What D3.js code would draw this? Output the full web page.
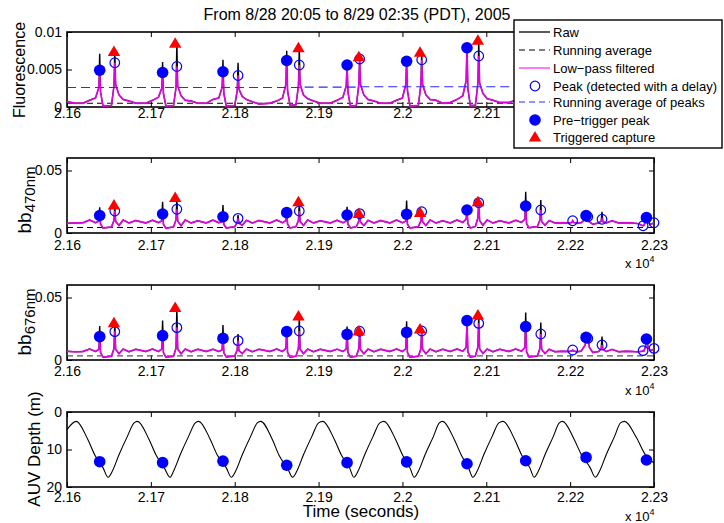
<!DOCTYPE html>
<html>
<head>
<meta charset="utf-8">
<script src="https://cdn.jsdelivr.net/npm/d3@7"></script>
<style>
  body { margin: 0; background: #fff; }
  text { font-family: "Liberation Sans", Arial, Helvetica, sans-serif; fill: #000; }
</style>
</head>
<body>
<svg id="chart" width="724" height="523"></svg>
<script>
// ---- data (time in seconds) ----
var sampleTime = [
  21600, 21610,
  21619, 21627, 21634, 21638, 21639, 21640, 21643, 21653, 21656, 21657, 21658, 21662, 21667, 21674, 21682,
  21694, 21702, 21709, 21713, 21714, 21715, 21718, 21727, 21730, 21731, 21732, 21736, 21741, 21748, 21756,
  21766, 21774, 21781, 21785, 21786, 21787, 21790, 21800, 21803, 21804, 21805, 21809, 21814, 21821, 21829,
  21842, 21850, 21857, 21861, 21862, 21863, 21866, 21873, 21876, 21877, 21878, 21882, 21887, 21894, 21902,
  21914, 21922, 21929, 21933, 21934, 21935, 21938, 21945, 21948, 21949, 21950, 21954, 21959, 21966, 21974,
  21985, 21993, 22000, 22004, 22005, 22006, 22009, 22019, 22022, 22023, 22024, 22028, 22033, 22040, 22048,
  22057, 22065, 22072, 22076, 22077, 22078, 22081, 22087, 22090, 22091, 22092, 22096, 22101, 22108, 22116,
  22127, 22135, 22142, 22146, 22147, 22148, 22151, 22161, 22164, 22165, 22166, 22170, 22175, 22182, 22190,
  22199, 22202, 22203, 22204, 22208,
  22213, 22218, 22219, 22220, 22221, 22223, 22227, 22234, 22237, 22238, 22239, 22243, 22250, 22258, 22266, 22274,
  22281, 22286, 22287, 22288, 22290, 22291, 22292, 22293, 22296, 22299, 22300
];

// low-pass filtered values at sampleTime
var fluorLP = [
  0.0007, 0.0005,
  0.0005, 0.0009, 0.0012, 0.0026, 0.0049, 0.0020, 0.0001, 0.0002, 0.0028, 0.0059, 0.0030, 0.0016, 0.0010, 0.0008, 0.0005,
  0.0005, 0.0009, 0.0013, 0.0025, 0.0046, 0.0018, 0.0001, 0.0002, 0.0026, 0.0054, 0.0028, 0.0015, 0.0009, 0.0008, 0.0005,
  0.0005, 0.0010, 0.0012, 0.0026, 0.0047, 0.0018, 0.0001, 0.0002, 0.0022, 0.0042, 0.0024, 0.0014, 0.0010, 0.0007, 0.0004,
  0.0005, 0.0008, 0.0012, 0.0030, 0.0062, 0.0022, 0.0002, 0.0003, 0.0028, 0.0056, 0.0030, 0.0016, 0.0011, 0.0008, 0.0005,
  0.0005, 0.0009, 0.0013, 0.0028, 0.0056, 0.0020, 0.0001, 0.0002, 0.0030, 0.0064, 0.0030, 0.0016, 0.0010, 0.0008, 0.0005,
  0.0005, 0.0009, 0.0012, 0.0030, 0.0061, 0.0022, 0.0001, 0.0002, 0.0030, 0.0063, 0.0030, 0.0016, 0.0010, 0.0009, 0.0005,
  0.0006, 0.0010, 0.0015, 0.0035, 0.0079, 0.0025, 0.0002, 0.0002, 0.0032, 0.0068, 0.0032, 0.0018, 0.0011, 0.0009, 0.0006,
  0.0006, 0.0009, 0.0013, 0.0028, 0.0058, 0.0020, 0.0001, 0.0002, 0.0025, 0.0050, 0.0026, 0.0015, 0.0010, 0.0008, 0.0006,
  0.0006, 0.0010, 0.0016, 0.0010, 0.0006,
  0.0008, 0.0020, 0.0042, 0.0030, 0.0038, 0.0015, 0.0006, 0.0004, 0.0015, 0.0030, 0.0016, 0.0008, 0.0007, 0.0006, 0.0005, 0.0005,
  0.0006, 0.0004, 0.0010, 0.0006, 0.0018, 0.0036, 0.0030, 0.0015, 0.0008, 0.0010, 0.0018
];
var bb470LP = [
  0.0078, 0.0080,
  0.0082, 0.0104, 0.0082, 0.0095, 0.0140, 0.0072, 0.0040, 0.0048, 0.0100, 0.0176, 0.0092, 0.0060, 0.0104, 0.0080, 0.0100,
  0.0080, 0.0102, 0.0083, 0.0098, 0.0152, 0.0070, 0.0038, 0.0048, 0.0105, 0.0190, 0.0095, 0.0058, 0.0104, 0.0080, 0.0098,
  0.0080, 0.0103, 0.0082, 0.0092, 0.0130, 0.0068, 0.0040, 0.0050, 0.0085, 0.0117, 0.0080, 0.0062, 0.0102, 0.0080, 0.0100,
  0.0080, 0.0104, 0.0082, 0.0100, 0.0163, 0.0072, 0.0040, 0.0050, 0.0100, 0.0176, 0.0092, 0.0060, 0.0104, 0.0080, 0.0098,
  0.0080, 0.0102, 0.0082, 0.0095, 0.0144, 0.0070, 0.0040, 0.0050, 0.0095, 0.0155, 0.0088, 0.0060, 0.0102, 0.0080, 0.0100,
  0.0080, 0.0104, 0.0082, 0.0096, 0.0150, 0.0070, 0.0040, 0.0050, 0.0098, 0.0170, 0.0090, 0.0060, 0.0104, 0.0080, 0.0098,
  0.0080, 0.0104, 0.0085, 0.0110, 0.0184, 0.0075, 0.0040, 0.0052, 0.0120, 0.0243, 0.0100, 0.0062, 0.0104, 0.0080, 0.0098,
  0.0080, 0.0102, 0.0085, 0.0110, 0.0216, 0.0075, 0.0042, 0.0052, 0.0105, 0.0184, 0.0090, 0.0062, 0.0100, 0.0080, 0.0082,
  0.0080, 0.0085, 0.0098, 0.0085, 0.0078,
  0.0082, 0.0110, 0.0139, 0.0125, 0.0130, 0.0090, 0.0070, 0.0080, 0.0095, 0.0110, 0.0090, 0.0080, 0.0098, 0.0080, 0.0082, 0.0080,
  0.0075, 0.0060, 0.0058, 0.0062, 0.0095, 0.0123, 0.0110, 0.0085, 0.0070, 0.0078, 0.0082
];
var bb676LP = [
  0.0070, 0.0065,
  0.0068, 0.0088, 0.0068, 0.0085, 0.0187, 0.0060, 0.0022, 0.0030, 0.0090, 0.0227, 0.0085, 0.0050, 0.0088, 0.0066, 0.0086,
  0.0068, 0.0088, 0.0068, 0.0088, 0.0195, 0.0060, 0.0022, 0.0030, 0.0095, 0.0259, 0.0088, 0.0050, 0.0088, 0.0066, 0.0086,
  0.0068, 0.0086, 0.0068, 0.0082, 0.0173, 0.0058, 0.0024, 0.0032, 0.0080, 0.0155, 0.0075, 0.0052, 0.0088, 0.0066, 0.0086,
  0.0068, 0.0088, 0.0068, 0.0092, 0.0227, 0.0062, 0.0022, 0.0030, 0.0092, 0.0232, 0.0086, 0.0050, 0.0088, 0.0066, 0.0086,
  0.0068, 0.0087, 0.0068, 0.0088, 0.0205, 0.0060, 0.0022, 0.0030, 0.0090, 0.0230, 0.0085, 0.0050, 0.0088, 0.0066, 0.0086,
  0.0068, 0.0088, 0.0068, 0.0090, 0.0221, 0.0060, 0.0022, 0.0030, 0.0090, 0.0232, 0.0085, 0.0050, 0.0088, 0.0066, 0.0086,
  0.0068, 0.0088, 0.0070, 0.0100, 0.0315, 0.0065, 0.0022, 0.0030, 0.0105, 0.0293, 0.0090, 0.0052, 0.0088, 0.0066, 0.0086,
  0.0068, 0.0088, 0.0070, 0.0100, 0.0267, 0.0065, 0.0024, 0.0032, 0.0095, 0.0208, 0.0085, 0.0052, 0.0086, 0.0066, 0.0070,
  0.0068, 0.0072, 0.0080, 0.0072, 0.0066,
  0.0070, 0.0120, 0.0181, 0.0160, 0.0173, 0.0100, 0.0060, 0.0068, 0.0090, 0.0120, 0.0085, 0.0068, 0.0085, 0.0066, 0.0070, 0.0068,
  0.0065, 0.0070, 0.0075, 0.0072, 0.0110, 0.0168, 0.0140, 0.0100, 0.0075, 0.0085, 0.0093
];

// raw spikes (where the raw trace rises above the filtered one)
var rawTime  = [21639, 21657, 21714, 21731, 21786, 21804, 21862, 21877, 21934, 21949, 22005, 22023, 22077, 22091, 22147, 22165, 22238, 22291];
var fluorRaw = [0.0071, 0.0074, 0.0060, 0.0085, 0.0063, 0.0059, 0.0075, 0.0079, 0.0058, 0.0067, 0.0062, 0.0073, 0.0083, 0.0089, 0.0070, 0.0060, 0.0035, 0.0040];
var bb470Raw = [0.0205, 0.0224, 0.0250, 0.0285, 0.0224, 0.0144, 0.0175, 0.0250, 0.0210, 0.0157, 0.0260, 0.0165, 0.0190, 0.0250, 0.0330, 0.0264, 0.0170, 0.0130];
var bb676Raw = [0.0272, 0.0299, 0.0315, 0.0421, 0.0280, 0.0208, 0.0240, 0.0352, 0.0267, 0.0232, 0.0310, 0.0248, 0.0320, 0.0360, 0.0379, 0.0300, 0.0187, 0.0175];

// running averages
var runAvgTime  = [21600, 22300];
var fluorRunAvg = [0.0005, 0.0005];
var bb470RunAvg = [0.0044, 0.0044];
var bb676RunAvg = [0.0033, 0.0033];

var peakAvgTime  = [21600, 21657, 21731, 21804, 21877, 21949, 22023, 22091, 22165, 22300];
var fluorPeakAvg = [0.0026, 0.0026, 0.0026, 0.0026, 0.00265, 0.0027, 0.0027, 0.0027, 0.0027, 0.0027];

// peaks detected with a delay (open circles)
var peakTime  = [21657, 21731, 21804, 21877, 21949, 22023, 22091, 22165, 22203, 22221, 22238, 22287, 22300];
var fluorPeak = [0.0059, 0.0054, 0.0042, 0.0056, 0.0064, 0.0063, 0.0068, 0.0050, 0.0016, 0.0038, 0.0030, 0.0010, 0.0018];
var bb470Peak = [0.0176, 0.0190, 0.0117, 0.0176, 0.0155, 0.0170, 0.0243, 0.0184, 0.0098, 0.0130, 0.0110, 0.0058, 0.0082];
var bb676Peak = [0.0227, 0.0259, 0.0155, 0.0232, 0.0230, 0.0232, 0.0293, 0.0208, 0.0080, 0.0173, 0.0120, 0.0075, 0.0093];

// pre-trigger peaks (filled dots)
var preTime  = [21639, 21714, 21786, 21862, 21934, 22005, 22077, 22147, 22219, 22291];
var fluorPre = [0.0049, 0.0046, 0.0047, 0.0062, 0.0056, 0.0061, 0.0079, 0.0058, 0.0042, 0.0036];
var bb470Pre = [0.0140, 0.0152, 0.0130, 0.0163, 0.0144, 0.0150, 0.0184, 0.0216, 0.0139, 0.0123];
var bb676Pre = [0.0187, 0.0195, 0.0173, 0.0227, 0.0205, 0.0221, 0.0315, 0.0267, 0.0181, 0.0168];
var depthPre = [13.25, 13.5, 13.1, 14.2, 13.5, 13.3, 13.8, 13.0, 12.1, 12.8];

// triggered captures (red triangles)
var trigTime  = [21656, 21729, 21876, 21948, 22021, 22090];
var fluorTrig = [0.0074, 0.0085, 0.0079, 0.0067, 0.0073, 0.0089];
var bb470Trig = [0.0224, 0.0285, 0.0250, 0.0157, 0.0165, 0.0250];
var bb676Trig = [0.0299, 0.0421, 0.0352, 0.0232, 0.0248, 0.0360];

// AUV depth profile (m)
var depthTime = [
  21600,
  21611, 21625, 21633, 21643, 21649, 21654, 21662, 21672, 21680,
  21684, 21698, 21706, 21716, 21723, 21727, 21735, 21745, 21753,
  21757, 21771, 21779, 21790, 21796, 21801, 21809, 21819, 21827,
  21831, 21845, 21853, 21863, 21869, 21874, 21882, 21892, 21900,
  21905, 21919, 21927, 21937, 21942, 21947, 21955, 21965, 21973,
  21978, 21992, 22000, 22009, 22014, 22019, 22027, 22037, 22044,
  22048, 22062, 22070, 22079, 22084, 22089, 22097, 22107, 22115,
  22120, 22134, 22142, 22152, 22157, 22162, 22170, 22180, 22187,
  22191, 22205, 22213, 22224, 22230, 22235, 22243, 22253, 22260,
  22265, 22279, 22290, 22300
];
var depth = [
  4.7,
  2.5, 7.4, 11.4, 14.9, 17.4, 15.8, 11.4, 6.5, 2.9,
  2.5, 7.4, 11.4, 14.9, 17.4, 15.8, 11.4, 6.5, 2.9,
  2.5, 7.4, 11.4, 14.9, 17.4, 15.8, 11.4, 6.5, 2.9,
  2.5, 7.4, 11.6, 15.0, 17.4, 15.8, 11.4, 6.5, 2.9,
  2.5, 7.4, 11.4, 14.9, 17.4, 15.8, 11.4, 6.5, 2.9,
  2.5, 7.4, 11.4, 14.9, 17.4, 15.8, 11.4, 6.5, 2.9,
  2.5, 7.4, 11.4, 15.0, 17.4, 15.8, 11.4, 6.5, 2.9,
  2.5, 7.4, 11.4, 14.9, 17.4, 15.8, 11.4, 6.5, 2.9,
  2.5, 7.4, 11.2, 14.9, 17.4, 15.8, 11.4, 6.5, 2.9,
  2.5, 6.8, 11.5, 13.6
];

var xTicks = [21600, 21700, 21800, 21900, 22000, 22100, 22200, 22300];

// ---- drawing ----
var svg  = d3.select("#chart");
var defs = svg.append("defs");
var x    = d3.scaleLinear().domain([21600, 22300]).range([67, 654]);
var FONT = '"Liberation Sans", Arial, Helvetica, sans-serif';

function pairs(t, v) { return t.map(function (d, i) { return [d, v[i]]; }); }

function rawSeries(lp, raw) {
  return sampleTime.map(function (t, i) {
    var j = rawTime.indexOf(t);
    return [t, j >= 0 ? raw[j] : lp[i]];
  });
}

function triPath(cx, cy) {
  return "M" + cx + "," + (cy - 6) + "L" + (cx + 6.2) + "," + (cy + 4.6) + "L" + (cx - 6.2) + "," + (cy + 4.6) + "Z";
}

function drawAxes(g, y, cfg) {
  var fmtX = function (d) {
    if (cfg.xLabelMax && d > cfg.xLabelMax) return "";   // covered by the legend
    return String(+(d / 10000).toFixed(4));
  };
  var ax = [
    g.append("g").attr("transform", "translate(0," + cfg.bottom + ")")
      .call(d3.axisBottom(x).tickValues(xTicks).tickFormat(fmtX).tickSizeInner(-5).tickSizeOuter(0).tickPadding(cfg.xPad)),
    g.append("g").attr("transform", "translate(0," + cfg.top + ")")
      .call(d3.axisTop(x).tickValues(xTicks).tickFormat("").tickSizeInner(-5).tickSizeOuter(0)),
    g.append("g").attr("transform", "translate(67,0)")
      .call(d3.axisLeft(y).tickValues(cfg.yTicks).tickFormat(function (d) { return String(d); }).tickSizeInner(-5).tickSizeOuter(0).tickPadding(5)),
    g.append("g").attr("transform", "translate(654,0)")
      .call(d3.axisRight(y).tickValues(cfg.yTicks).tickFormat("").tickSizeInner(-5).tickSizeOuter(0))
  ];
  ax.forEach(function (a) {
    a.select(".domain").remove();
    a.attr("font-family", FONT).attr("font-size", 14);
    a.selectAll("line").attr("stroke", "#000").attr("stroke-width", 1);
    a.selectAll("text").attr("fill", "#000");
  });

  g.append("rect")
    .attr("x", 67).attr("y", cfg.top)
    .attr("width", 587).attr("height", cfg.bottom - cfg.top)
    .attr("fill", "none").attr("stroke", "#000").attr("stroke-width", 1.6);

  if (cfg.expY) {
    var e = g.append("text").attr("x", 625).attr("y", cfg.expY).style("font-size", "13px");
    e.append("tspan").text("x 10");
    e.append("tspan").attr("dy", -6).style("font-size", "9px").text("4");
  }
}

function drawSensorPanel(cfg) {
  var y = d3.scaleLinear().domain(cfg.domain).range([cfg.bottom, cfg.top]);
  var g = svg.append("g");
  drawAxes(g, y, cfg);

  defs.append("clipPath").attr("id", "clip-" + cfg.id)
    .append("rect").attr("x", 67).attr("y", cfg.top).attr("width", 587).attr("height", cfg.bottom - cfg.top);

  var line = d3.line().x(function (d) { return x(d[0]); }).y(function (d) { return y(d[1]); });
  var plot = g.append("g").attr("clip-path", "url(#clip-" + cfg.id + ")");

  plot.append("path").datum(rawSeries(cfg.lp, cfg.raw))
    .attr("d", line).attr("fill", "none").attr("stroke", "#000").attr("stroke-width", 1.4);

  plot.append("path").datum(pairs(runAvgTime, cfg.runAvg))
    .attr("d", line).attr("fill", "none").attr("stroke", cfg.avgColor).attr("stroke-width", 1.1)
    .attr("stroke-dasharray", "6,4");

  plot.append("path").datum(pairs(sampleTime, cfg.lp))
    .attr("d", line).attr("fill", "none").attr("stroke", "#ff66ff").attr("stroke-width", 2.4).attr("opacity", 0.35);
  plot.append("path").datum(pairs(sampleTime, cfg.lp))
    .attr("d", line).attr("fill", "none").attr("stroke", "#e600e6").attr("stroke-width", 1.3);

  g.selectAll(null).data(pairs(peakTime, cfg.peak)).enter().append("circle")
    .attr("cx", function (d) { return x(d[0]); }).attr("cy", function (d) { return y(d[1]); })
    .attr("r", 4.8).attr("fill", "none").attr("stroke", "#0000ff").attr("stroke-width", 1.2);

  if (cfg.peakAvg) {
    plot.append("path").datum(pairs(peakAvgTime, cfg.peakAvg))
      .attr("d", line.curve(d3.curveStepAfter)).attr("fill", "none").attr("stroke", "#2a2aff")
      .attr("stroke-width", 1.2).attr("stroke-dasharray", "9,5");
    line.curve(d3.curveLinear);
  }

  g.selectAll(null).data(pairs(preTime, cfg.pre)).enter().append("circle")
    .attr("cx", function (d) { return x(d[0]); }).attr("cy", function (d) { return y(d[1]); })
    .attr("r", 5.8).attr("fill", "#0000ff");

  g.selectAll(null).data(pairs(trigTime, cfg.trig)).enter().append("path")
    .attr("d", function (d) { return triPath(x(d[0]), y(d[1])); })
    .attr("fill", "#ff0000");
}

// top panel: its last tick labels and "x 10^4" sit under the legend, so they are left out
drawSensorPanel({ id: "fl", top: 32, bottom: 107, domain: [0, 0.01], yTicks: [0, 0.005, 0.01], xPad: 1, xLabelMax: 22100,
  lp: fluorLP, raw: fluorRaw, runAvg: fluorRunAvg, avgColor: "#000", peak: fluorPeak, pre: fluorPre, trig: fluorTrig,
  peakAvg: fluorPeakAvg });
drawSensorPanel({ id: "b470", top: 158, bottom: 233, domain: [0, 0.06], yTicks: [0, 0.05], xPad: 7,
  lp: bb470LP, raw: bb470Raw, runAvg: bb470RunAvg, avgColor: "#000", peak: bb470Peak, pre: bb470Pre, trig: bb470Trig,
  expY: 268 });
drawSensorPanel({ id: "b676", top: 285, bottom: 360, domain: [0, 0.06], yTicks: [0, 0.05], xPad: 6,
  lp: bb676LP, raw: bb676Raw, runAvg: bb676RunAvg, avgColor: "#555", peak: bb676Peak, pre: bb676Pre, trig: bb676Trig,
  expY: 395 });

// depth panel
(function () {
  var cfg = { top: 412, bottom: 487, yTicks: [0, 10, 20], xPad: 5, expY: 521 };
  var y = d3.scaleLinear().domain([0, 20]).range([cfg.top, cfg.bottom]);
  var g = svg.append("g");
  drawAxes(g, y, cfg);
  var line = d3.line().curve(d3.curveMonotoneX)
    .x(function (d) { return x(d[0]); }).y(function (d) { return y(d[1]); });
  g.append("path").datum(pairs(depthTime, depth))
    .attr("d", line).attr("fill", "none").attr("stroke", "#000").attr("stroke-width", 1.1);
  g.selectAll(null).data(pairs(preTime, depthPre)).enter().append("circle")
    .attr("cx", function (d) { return x(d[0]); }).attr("cy", function (d) { return y(d[1]); })
    .attr("r", 5.8).attr("fill", "#0000ff");
})();

// titles and axis labels
svg.append("text").attr("x", 357).attr("y", 20).attr("text-anchor", "middle")
  .style("font-size", "16px").text("From 8/28 20:05 to 8/29 02:35 (PDT), 2005");

svg.append("text").attr("transform", "translate(25,70) rotate(-90)").attr("text-anchor", "middle")
  .style("font-size", "16px").text("Fluorescence");

function bbLabel(cy, sub) {
  var t = svg.append("text").attr("transform", "translate(31," + cy + ") rotate(-90)")
    .attr("text-anchor", "middle").style("font-size", "19px");
  t.append("tspan").text("bb");
  t.append("tspan").attr("dy", 4).style("font-size", "15px").text(sub);
}
bbLabel(200, "470nm");
bbLabel(322, "676nm");

svg.append("text").attr("transform", "translate(40,449) rotate(-90)").attr("text-anchor", "middle")
  .style("font-size", "17px").text("AUV Depth (m)");

svg.append("text").attr("x", 361).attr("y", 517).attr("text-anchor", "middle")
  .style("font-size", "17px").text("Time (seconds)");

// legend
var legendItems = [
  { label: "Raw", kind: "line", color: "#000" },
  { label: "Running average", kind: "dash", color: "#000" },
  { label: "Low\u2212pass filtered", kind: "line", color: "#ff33ff" },
  { label: "Peak (detected with a delay)", kind: "ring", color: "#0000ff" },
  { label: "Running average of peaks", kind: "dash", color: "#2a2aff" },
  { label: "Pre\u2212trigger peak", kind: "dot", color: "#0000ff" },
  { label: "Triggered capture", kind: "tri", color: "#ff0000" }
];
var legendRowY = [32, 50, 68, 86, 102, 120, 137];

var lg = svg.append("g");
lg.append("rect").attr("x", 514).attr("y", 20).attr("width", 208).attr("height", 128)
  .attr("fill", "#fff").attr("stroke", "#000").attr("stroke-width", 1.4);

legendItems.forEach(function (it, i) {
  var cy = legendRowY[i];
  if (it.kind === "line" || it.kind === "dash") {
    lg.append("line").attr("x1", 519).attr("x2", 550).attr("y1", cy).attr("y2", cy)
      .attr("stroke", it.color).attr("stroke-width", it.kind === "line" ? 1.3 : 1.1)
      .attr("stroke-dasharray", it.kind === "dash" ? "6,4" : null);
  } else if (it.kind === "ring") {
    lg.append("circle").attr("cx", 535).attr("cy", cy).attr("r", 4.8)
      .attr("fill", "none").attr("stroke", it.color).attr("stroke-width", 1.2);
  } else if (it.kind === "dot") {
    lg.append("circle").attr("cx", 535).attr("cy", cy).attr("r", 5.8).attr("fill", it.color);
  } else {
    lg.append("path").attr("d", triPath(535, cy)).attr("fill", it.color);
  }
  lg.append("text").attr("x", 553).attr("y", cy + 4.5).style("font-size", "13px").text(it.label);
});
</script>
</body>
</html>
